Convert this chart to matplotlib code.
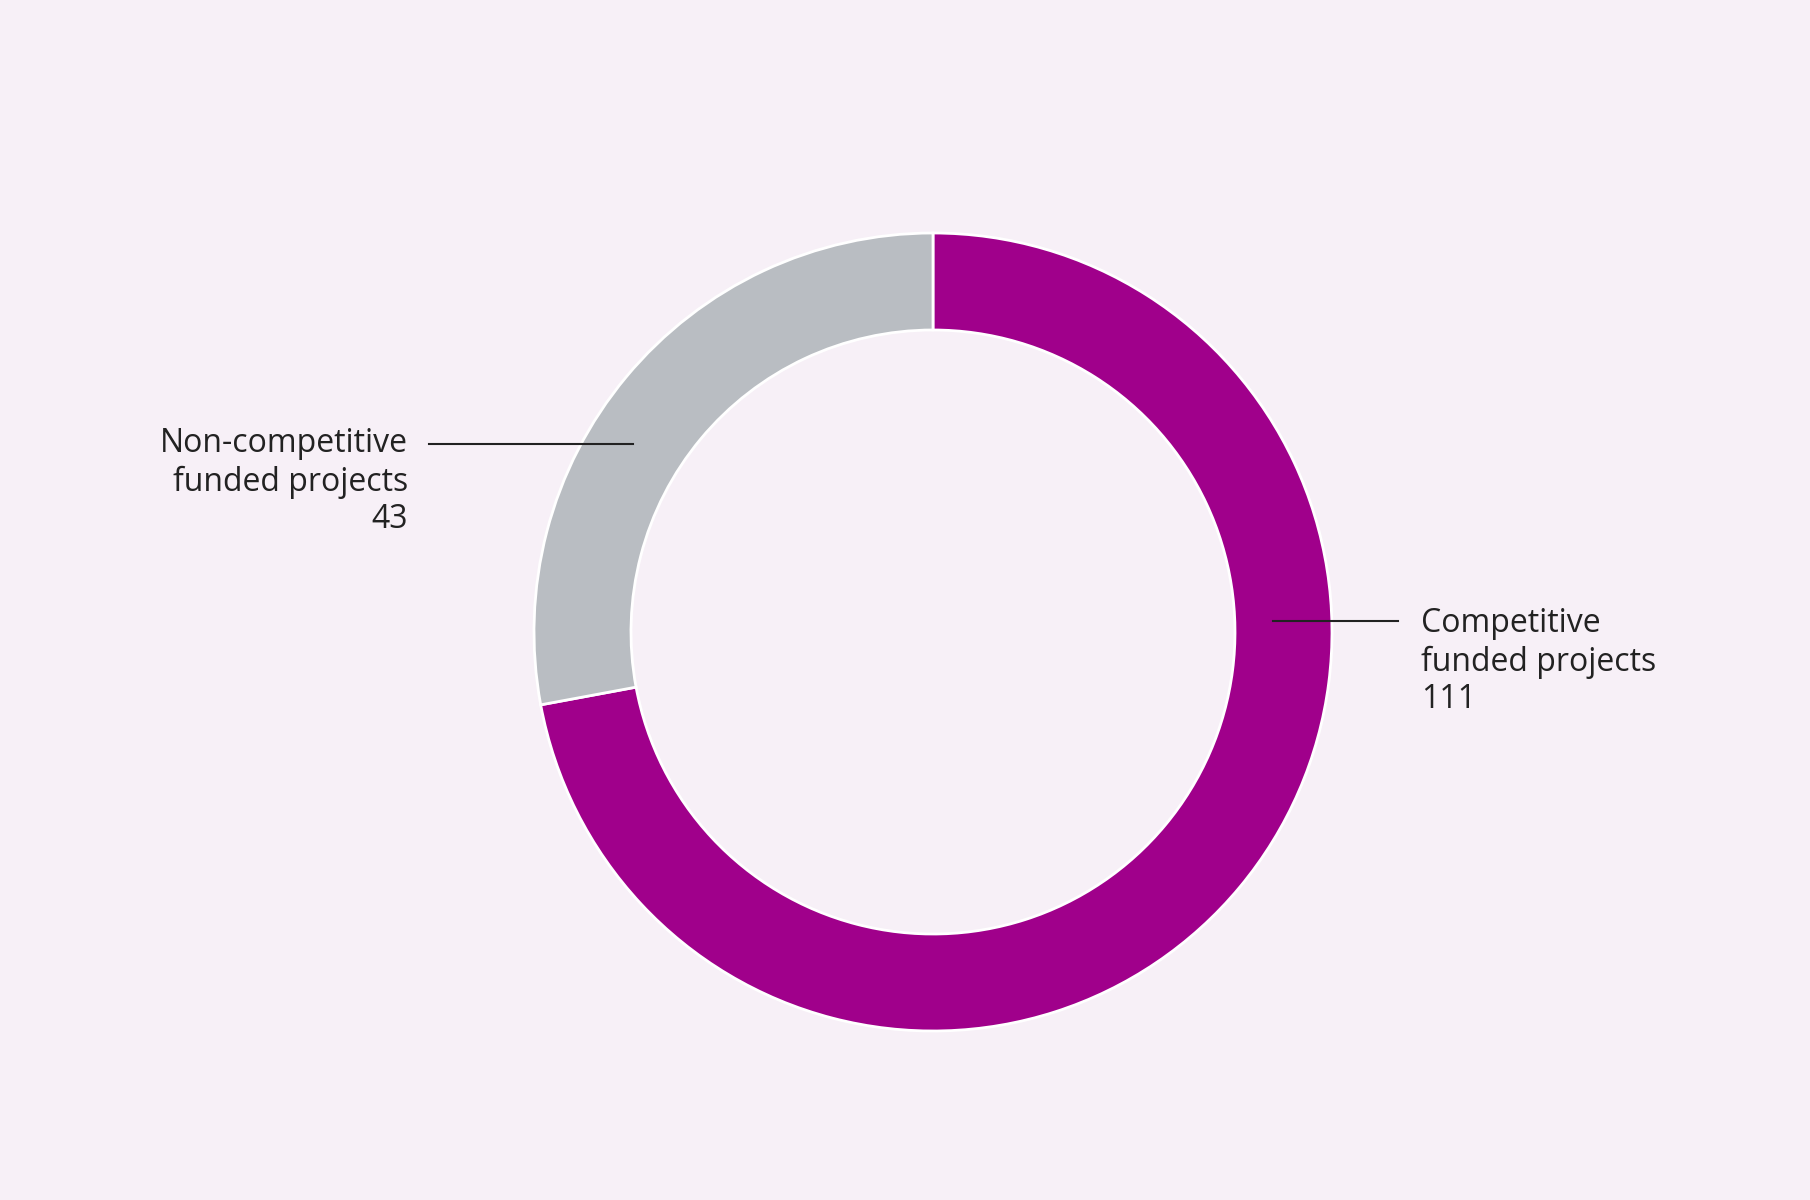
import matplotlib.pyplot as plt

# data
labels = ['Competitive\nfunded projects', 'Non-competitive\nfunded projects']
values = [111, 43]
colors = ['#A0008B', '#B9BDC2']
bg = '#F7F0F7'

W, H = 1810, 1200
fig = plt.figure(figsize=(W / 100, H / 100), dpi=100, facecolor=bg)

# axes placed so the ring centre lands at about (933, 632) px, outer radius ~399 px
cx, cy, r = 933, 632, 399
ax = fig.add_axes([(cx - r) / W, (H - cy - r) / H, 2 * r / W, 2 * r / H])
ax.set_facecolor(bg)

wedges, _ = ax.pie(values, colors=colors, startangle=90, counterclock=False,
                   radius=1.0, wedgeprops=dict(width=97 / 399, edgecolor='white', linewidth=2))
ax.set_xlim(-1, 1)
ax.set_ylim(-1, 1)
ax.set_aspect('equal')
ax.axis('off')


def px(x, y):
    return x / W, 1 - y / H


font = dict(family=['Open Sans', 'DejaVu Sans'], fontsize=23, color='#222222',
            fontweight='normal')
step = 38


def label(text, value, x, y, ha):
    lines = text.split('\n') + [str(value)]
    for k, s in enumerate(lines):
        fig.text(*px(x, y + k * step), s, ha=ha, va='center', **font)


# right label (competitive)
fig.add_artist(plt.Line2D([px(1273, 0)[0], px(1398, 0)[0]], [px(0, 621)[1]] * 2,
                          color='#222222', lw=1.5))
label(labels[0], values[0], 1421, 624, 'left')

# left label (non-competitive)
fig.add_artist(plt.Line2D([px(429, 0)[0], px(633, 0)[0]], [px(0, 444)[1]] * 2,
                          color='#222222', lw=1.5))
label(labels[1], values[1], 408, 444, 'right')

fig.savefig('out.png', dpi=100, facecolor=bg)
